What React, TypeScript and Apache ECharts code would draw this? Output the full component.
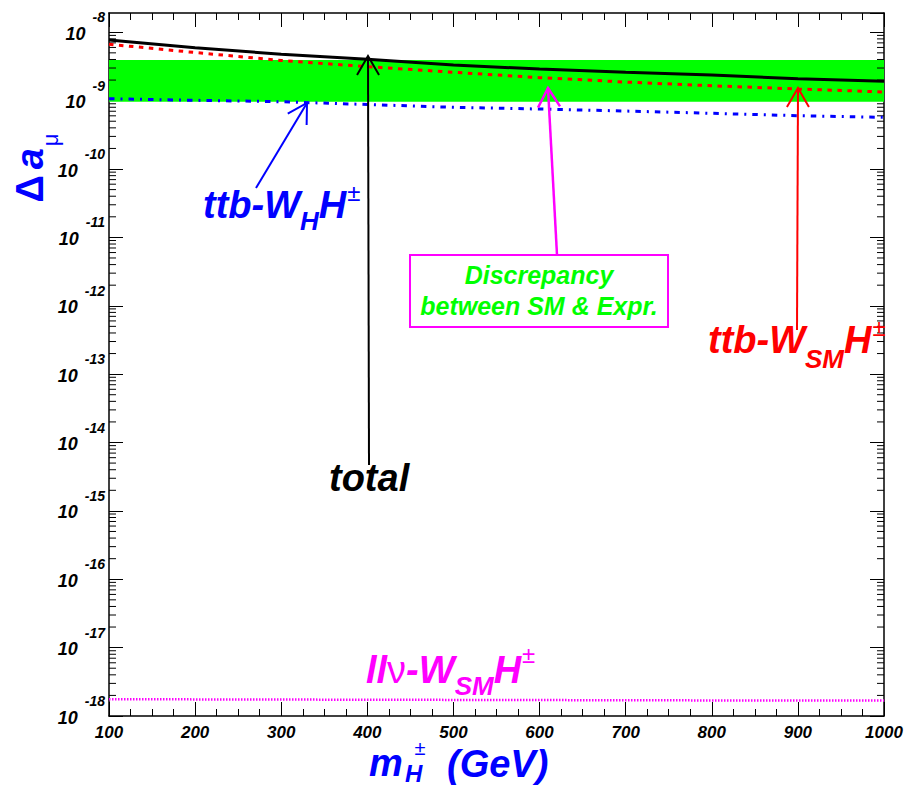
import React, { useEffect, useRef } from 'react';
import * as echarts from 'echarts';

// ---- data ----
const massGeV = [100, 200, 300, 400, 500, 600, 700, 800, 900, 1000];
const totalVals = [7.71e-9, 5.95e-9, 4.77e-9, 4.03e-9, 3.32e-9, 2.9e-9, 2.6e-9, 2.37e-9, 2.09e-9, 1.92e-9];
const ttbWsmVals = [6.68e-9, 5.06e-9, 3.87e-9, 3.14e-9, 2.6e-9, 2.17e-9, 1.87e-9, 1.65e-9, 1.48e-9, 1.34e-9];
const ttbWhVals = [1.067e-9, 1.012e-9, 9.65e-10, 8.78e-10, 7.99e-10, 7.54e-10, 7.05e-10, 6.53e-10, 6.02e-10, 5.7e-10];
const llnuVals = [1.76e-18, 1.75e-18, 1.74e-18, 1.73e-18, 1.72e-18, 1.71e-18, 1.7e-18, 1.69e-18, 1.69e-18, 1.68e-18];
const bandLow = 9.65e-10;
const bandHigh = 3.93e-9;
const xMin = 100;
const xMax = 1000;
const xInterval = 100;
const yMin = 1e-18;
const yMax = 1.914e-8;
const minorMultipliers = [2, 3, 4, 5, 6, 7, 8, 9];
const decades = [-18, -17, -16, -15, -14, -13, -12, -11, -10, -9, -8];

const FONT = '"Liberation Sans", Arial, Helvetica, sans-serif';
const BLUE = '#0000ff';
const RED = '#ff0000';
const MAGENTA = '#ff00ff';
const GREEN = '#00ff00';

const minorYTicks: number[] = [];
decades.forEach((d) => {
  minorMultipliers.forEach((k) => {
    const v = k * Math.pow(10, d);
    if (v > yMin && v < yMax) minorYTicks.push(v);
  });
});

const bi = { fontWeight: 'bold', fontStyle: 'italic', fontFamily: FONT };

function annotRich(color: string, subPad: number, supPad: number) {
  return {
    m: { ...bi, fill: color, fontSize: 38, lineHeight: 38, padding: [10, 0, 0, 0], verticalAlign: 'top' },
    g: { fontFamily: FONT, fill: color, fontSize: 38, lineHeight: 38, padding: [10, 0, 0, 0], verticalAlign: 'top' },
    s: { ...bi, fill: color, fontSize: 26, lineHeight: 26, padding: [subPad, 0, 0, 0], verticalAlign: 'top' },
    p: { fontFamily: FONT, fill: color, fontSize: 24, lineHeight: 24, padding: [supPad, 0, 0, 1], verticalAlign: 'top' },
  };
}

function arrow(x1: number, y1: number, x2: number, y2: number, color: string, width: number) {
  const ang = Math.atan2(y1 - y2, x1 - x2);
  const L = 22;
  const a1 = ang + Math.PI / 6;
  const a2 = ang - Math.PI / 6;
  return {
    type: 'group',
    z: 100,
    children: [
      { type: 'line', z: 100, shape: { x1, y1, x2, y2 }, style: { stroke: color, lineWidth: width } },
      {
        type: 'polyline',
        z: 100,
        shape: {
          points: [
            [x2 + L * Math.cos(a1), y2 + L * Math.sin(a1)],
            [x2, y2],
            [x2 + L * Math.cos(a2), y2 + L * Math.sin(a2)],
          ],
        },
        style: { stroke: color, lineWidth: width, fill: 'none' },
      },
    ],
  };
}

export default function App() {
  const ref = useRef<HTMLDivElement>(null);
  useEffect(() => {
    if (!ref.current) return;
    const chart = echarts.init(ref.current, undefined, { renderer: 'svg' });
    const pair = (vals: number[]) => massGeV.map((m, i) => [m, vals[i]]);
    const xAxisCommon = {
      type: 'value',
      min: xMin,
      max: xMax,
      interval: xInterval,
      splitLine: { show: false },
      axisLine: { show: true, onZero: false, lineStyle: { color: '#000', width: 1.5 } },
      axisTick: { show: true, inside: true, length: 14, lineStyle: { color: '#000', width: 1 } },
      minorTick: { show: true, splitNumber: 4, length: 7, lineStyle: { color: '#000', width: 1 } },
    };
    const yAxisCommon = {
      type: 'log',
      logBase: 10,
      min: yMin,
      max: yMax,
      interval: 1,
      splitLine: { show: false },
      minorTick: { show: false },
      axisLine: { show: true, lineStyle: { color: '#000', width: 1.5 } },
      axisTick: { show: true, inside: true, length: 14, lineStyle: { color: '#000', width: 1 } },
    };
    const option: any = {
      animation: false,
      backgroundColor: '#ffffff',
      grid: { left: 109, right: 25, top: 13, bottom: 71, containLabel: false },
      xAxis: [
        {
          ...xAxisCommon,
          position: 'bottom',
          axisLabel: {
            margin: 8,
            fontSize: 17,
            fontWeight: 'bold',
            fontStyle: 'italic',
            fontFamily: FONT,
            color: '#000',
            showMinLabel: true,
            showMaxLabel: true,
            formatter: (v: number) => String(v),
          },
        },
        { ...xAxisCommon, position: 'top', axisLabel: { show: false } },
      ],
      yAxis: [
        {
          ...yAxisCommon,
          position: 'left',
          axisLabel: {
            margin: 4,
            showMaxLabel: false,
            formatter: (v: number) => {
              const e = Math.log10(v);
              const r = Math.round(e);
              if (Math.abs(e - r) > 1e-6) return '';
              return `{b|10}{e|${r}}`;
            },
            rich: {
              b: { fontSize: 18, fontWeight: 'bold', fontStyle: 'italic', fontFamily: FONT, color: '#000', lineHeight: 44, padding: [14.5, 0, 0, 0], verticalAlign: 'top' },
              e: { fontSize: 14, fontWeight: 'bold', fontStyle: 'italic', fontFamily: FONT, color: '#000', lineHeight: 44, padding: [0, 0, 0, 7], verticalAlign: 'top' },
            },
          },
        },
        { ...yAxisCommon, position: 'right', axisLabel: { show: false } },
      ],
      series: [
        {
          type: 'custom',
          name: 'minorTicks',
          xAxisIndex: 0,
          yAxisIndex: 0,
          z: 1,
          silent: true,
          clip: false,
          data: minorYTicks.map((v) => [xMin, v]),
          renderItem: (params: any, api: any) => {
            const p = api.coord([api.value(0), api.value(1)]);
            const cs = params.coordSys;
            return {
              type: 'group',
              children: [
                { type: 'line', shape: { x1: cs.x, y1: p[1], x2: cs.x + 7, y2: p[1] }, style: { stroke: '#000', lineWidth: 1 } },
                { type: 'line', shape: { x1: cs.x + cs.width, y1: p[1], x2: cs.x + cs.width - 7, y2: p[1] }, style: { stroke: '#000', lineWidth: 1 } },
              ],
            };
          },
        },
        {
          type: 'line',
          name: 'band',
          data: [],
          z: 2,
          silent: true,
          markArea: {
            silent: true,
            itemStyle: { color: GREEN, opacity: 1 },
            data: [[{ xAxis: xMin, yAxis: bandLow }, { xAxis: xMax, yAxis: bandHigh }]],
          },
        },
        {
          type: 'line',
          name: 'llnu',
          data: pair(llnuVals),
          showSymbol: false,
          z: 3,
          lineStyle: { color: MAGENTA, width: 2.5, type: [1.5, 1.5] },
        },
        {
          type: 'line',
          name: 'ttbWH',
          data: pair(ttbWhVals),
          showSymbol: false,
          z: 4,
          lineStyle: { color: BLUE, width: 3, type: [5.5, 6, 2, 6] },
        },
        {
          type: 'line',
          name: 'total',
          data: pair(totalVals),
          showSymbol: false,
          z: 5,
          lineStyle: { color: '#000', width: 3 },
        },
        {
          type: 'line',
          name: 'ttbWSM',
          data: pair(ttbWsmVals),
          showSymbol: false,
          z: 6,
          lineStyle: { color: RED, width: 3, type: [4.5, 5.5] },
        },
      ],
      graphic: [
        // arrows
        arrow(256, 188, 307, 103, BLUE, 2),
        arrow(557, 255, 548, 88, MAGENTA, 2.5),
        arrow(797, 330, 798, 88, RED, 2),
        arrow(369, 465, 368, 56, '#000', 2),
        // discrepancy box
        {
          type: 'rect',
          z: 100,
          shape: { x: 410, y: 255, width: 258, height: 72 },
          style: { stroke: MAGENTA, lineWidth: 2, fill: 'none' },
        },
        {
          type: 'text',
          z: 101,
          x: 539,
          y: 290,
          style: {
            text: 'Discrepancy\nbetween SM & Expr.',
            align: 'center',
            verticalAlign: 'middle',
            fontSize: 25,
            lineHeight: 31,
            fontWeight: 'bold',
            fontStyle: 'italic',
            fontFamily: FONT,
            fill: GREEN,
          },
        },
        // ttb-W_H H±
        {
          type: 'text',
          z: 101,
          x: 203,
          y: 176,
          style: {
            text: '{m|ttb-W}{s|H}{m|H}{p|±}',
            align: 'left',
            verticalAlign: 'top',
            rich: annotRich(BLUE, 32, 4),
          },
        },
        // ttb-W_SM H±
        {
          type: 'text',
          z: 101,
          x: 708,
          y: 311,
          style: {
            text: '{m|ttb-W}{s|SM}{m|H}{p|±}',
            align: 'left',
            verticalAlign: 'top',
            rich: annotRich(RED, 35, 4),
          },
        },
        // llν-W_SM H±
        {
          type: 'text',
          z: 101,
          x: 366,
          y: 641,
          style: {
            text: '{m|ll}{g|ν}{m|-W}{s|SM}{m|H}{p|±}',
            align: 'left',
            verticalAlign: 'top',
            rich: annotRich(MAGENTA, 32, 1),
          },
        },
        // total
        {
          type: 'text',
          z: 101,
          x: 329,
          y: 478,
          style: {
            text: 'total',
            align: 'left',
            verticalAlign: 'middle',
            fontSize: 38,
            fontWeight: 'bold',
            fontStyle: 'italic',
            fontFamily: FONT,
            fill: '#000',
          },
        },
        // x axis title pieces
        {
          type: 'text',
          z: 101,
          x: 369,
          y: 763,
          style: { text: 'm', align: 'left', verticalAlign: 'middle', fontSize: 38, fontWeight: 'bold', fontStyle: 'italic', fontFamily: FONT, fill: BLUE },
        },
        {
          type: 'text',
          z: 101,
          x: 405,
          y: 773,
          style: { text: 'H', align: 'left', verticalAlign: 'middle', fontSize: 24, fontWeight: 'bold', fontStyle: 'italic', fontFamily: FONT, fill: BLUE },
        },
        {
          type: 'text',
          z: 101,
          x: 420,
          y: 748,
          style: { text: '±', align: 'center', verticalAlign: 'middle', fontSize: 20, fontFamily: FONT, fill: BLUE },
        },
        {
          type: 'text',
          z: 101,
          x: 447,
          y: 764,
          style: { text: '(GeV)', align: 'left', verticalAlign: 'middle', fontSize: 38, fontWeight: 'bold', fontStyle: 'italic', fontFamily: FONT, fill: BLUE },
        },
        // y axis title
        {
          type: 'text',
          z: 101,
          x: 30,
          y: 168,
          rotation: Math.PI / 2,
          style: {
            text: '{d|Δ}{a|a}{s|μ}',
            align: 'center',
            verticalAlign: 'middle',
            rich: {
              d: { fontFamily: FONT, fontWeight: 'bold', fill: BLUE, fontSize: 38, lineHeight: 38, padding: [0, 6, 0, 0], verticalAlign: 'top' },
              a: { ...bi, fill: BLUE, fontSize: 38, lineHeight: 38, verticalAlign: 'top' },
              s: { fontFamily: FONT, fill: BLUE, fontSize: 22, lineHeight: 22, padding: [28.6, 0, 0, 2], verticalAlign: 'top' },
            },
          },
        },
      ],
    };
    chart.setOption(option);
    return () => {
      chart.dispose();
    };
  }, []);
  return (
    <div
      ref={ref}
      style={{ position: 'absolute', left: 0, top: 0, width: 909, height: 787, background: '#fff' }}
    />
  );
}
